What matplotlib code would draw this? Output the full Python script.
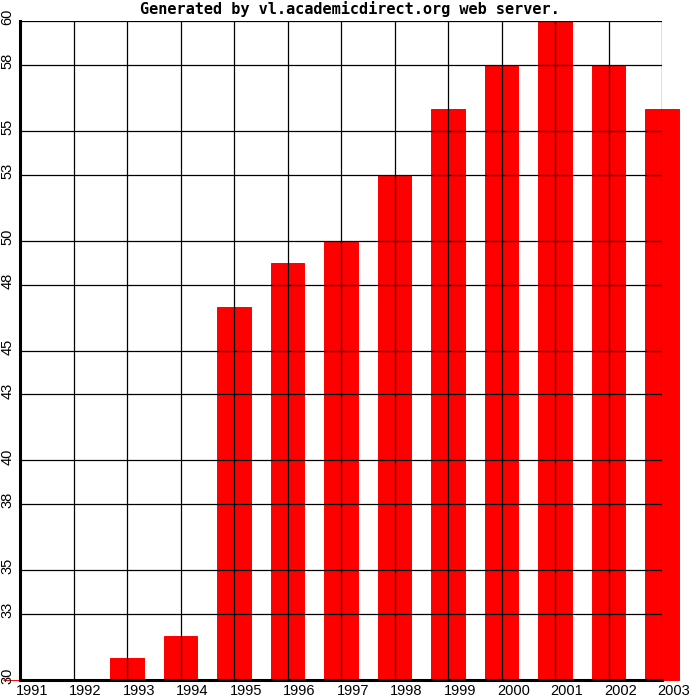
import matplotlib
matplotlib.use("Agg")
import matplotlib.pyplot as plt
from matplotlib.transforms import ScaledTranslation

# data
years = ["1991", "1992", "1993", "1994", "1995", "1996", "1997",
         "1998", "1999", "2000", "2001", "2002", "2003"]
values = [30, 30, 31, 32, 47, 49, 50, 53, 56, 58, 60, 58, 56]
yticks = [30, 33, 35, 38, 40, 43, 45, 48, 50, 53, 55, 58, 60]
title = "Generated by vl.academicdirect.org web server."

base = 30

fig = plt.figure(figsize=(7, 7), dpi=100)
ax = fig.add_axes([20/700, 20/700, 642/700, 659/700])

pos = list(range(len(years)))
ax.bar(pos, [v - base for v in values], bottom=base, width=0.62,
       color="#ff0000", edgecolor="#ff0000", linewidth=0.7,
       clip_on=False, zorder=1)

ax.set_xlim(0, len(years) - 1)
ax.set_ylim(30, 60)
ax.set_xticks(pos)
ax.set_xticklabels(years, fontsize=10.5, family="Liberation Sans")
ax.set_yticks(yticks)
ax.set_yticklabels([str(t) for t in yticks], fontsize=10.5,
                   family="Liberation Sans", rotation=90, va="center")

ax.grid(True, color="black", linewidth=0.9, zorder=2)
ax.set_axisbelow(False)
for g in ax.get_xgridlines() + ax.get_ygridlines():
    g.set_zorder(2)

ax.spines["top"].set_visible(False)
ax.spines["right"].set_visible(False)
ax.spines["left"].set_linewidth(2.2)
ax.spines["bottom"].set_linewidth(2.2)
ax.spines["left"].set_zorder(3)
ax.spines["bottom"].set_zorder(3)
ax.tick_params(length=0)
ax.tick_params(axis="x", pad=3)
ax.tick_params(axis="y", pad=4)

# labels sit a bit off their grid lines, as in the source
for lab in ax.get_xticklabels():
    lab.set_transform(lab.get_transform() + ScaledTranslation(0.12, 0, fig.dpi_scale_trans))
for lab in ax.get_yticklabels():
    lab.set_transform(lab.get_transform() + ScaledTranslation(0, 0.04, fig.dpi_scale_trans))

fig.text(0.5, 1 - 9/700, title, ha="center", va="center",
         family="DejaVu Sans Mono", fontweight="bold", fontsize=11)

fig.savefig("out.png", dpi=100)
